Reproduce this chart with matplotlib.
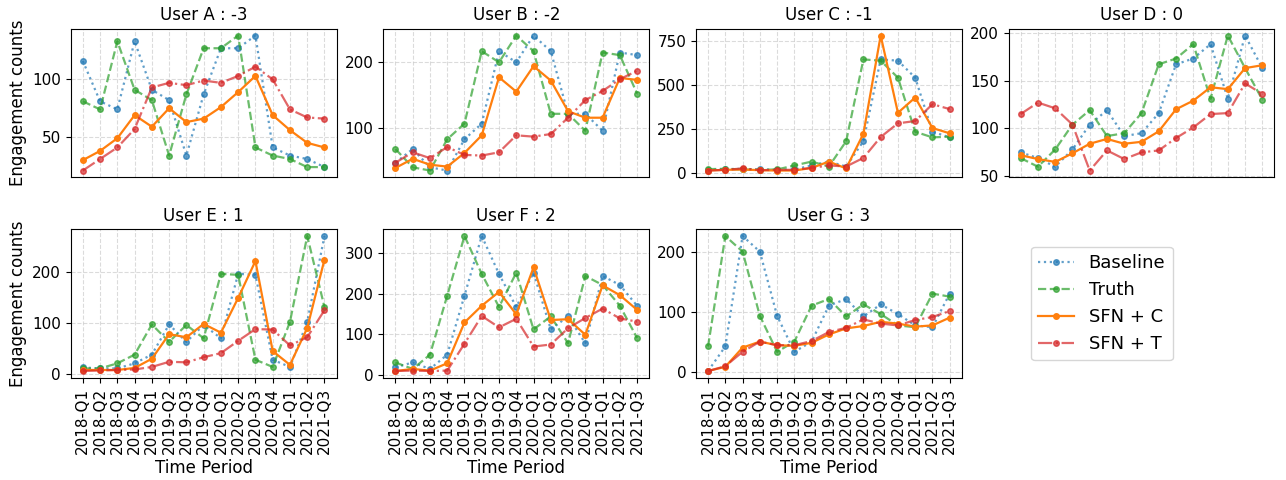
import numpy as np
import matplotlib
matplotlib.use('Agg')
import matplotlib.pyplot as plt

# time axis
periods = ['2018-Q1', '2018-Q2', '2018-Q3', '2018-Q4',
           '2019-Q1', '2019-Q2', '2019-Q3', '2019-Q4',
           '2020-Q1', '2020-Q2', '2020-Q3', '2020-Q4',
           '2021-Q1', '2021-Q2', '2021-Q3']

titles = ['User A : -3', 'User B : -2', 'User C : -1', 'User D : 0',
          'User E : 1', 'User F : 2', 'User G : 3']

# values, one list per user
baseline_A = [116, 81, 74, 133, 91, 82, 34, 87, 127, 127, 138, 41, 34, 31, 24]
truth_A = [81, 74, 133, 91, 82, 34, 87, 127, 127, 138, 41, 34, 31, 24, 24]
sfnc_A = [30, 38, 49, 69, 59, 75, 63, 66, 76, 89, 103, 69, 56, 45, 41]
sfnt_A = [21, 31, 41, 57, 93, 97, 95, 99, 97, 103, 111, 100, 74, 67, 66]

baseline_B = [46, 67, 39, 34, 82, 106, 217, 200, 241, 217, 121, 121, 95, 215, 211]
truth_B = [67, 39, 34, 82, 106, 217, 200, 241, 217, 121, 121, 95, 215, 211, 152]
sfnc_B = [38, 52, 43, 40, 61, 88, 177, 155, 194, 172, 125, 115, 115, 176, 173]
sfnt_B = [46, 62, 53, 70, 58, 57, 62, 88, 86, 90, 115, 142, 156, 174, 187]

baseline_C = [15, 21, 23, 19, 17, 19, 42, 64, 36, 180, 646, 639, 542, 234, 202]
truth_C = [21, 23, 19, 17, 19, 42, 64, 36, 180, 646, 639, 542, 234, 202, 206]
sfnc_C = [13, 17, 19, 15, 13, 13, 28, 64, 25, 223, 782, 342, 429, 255, 225]
sfnt_C = [13, 17, 25, 15, 17, 17, 28, 42, 36, 85, 204, 282, 295, 391, 363]

baseline_D = [75, 69, 60, 78, 104, 119, 92, 95, 116, 167, 173, 188, 131, 197, 163]
truth_D = [69, 60, 78, 104, 119, 92, 95, 116, 167, 173, 188, 131, 197, 163, 130]
sfnc_D = [72, 68, 65, 74, 84, 89, 84, 86, 97, 120, 129, 143, 141, 163, 166]
sfnt_D = [115, 127, 121, 104, 56, 77, 68, 75, 77, 90, 101, 115, 116, 147, 136]

baseline_E = [13, 11, 11, 21, 38, 97, 63, 96, 70, 196, 194, 28, 14, 102, 270]
truth_E = [11, 11, 21, 38, 97, 63, 96, 70, 196, 194, 28, 14, 102, 270, 131]
sfnc_E = [8, 8, 8, 12, 30, 78, 72, 98, 81, 149, 221, 45, 18, 90, 224]
sfnt_E = [6, 7, 8, 9, 14, 24, 23, 33, 41, 65, 88, 87, 56, 72, 125]

baseline_F = [19, 31, 15, 50, 195, 341, 248, 167, 251, 112, 144, 78, 243, 221, 170]
truth_F = [31, 15, 50, 195, 341, 248, 167, 251, 112, 144, 78, 243, 221, 170, 91]
sfnc_F = [10, 15, 11, 29, 129, 170, 204, 149, 264, 135, 137, 99, 220, 196, 160]
sfnt_F = [10, 11, 10, 11, 77, 145, 117, 138, 70, 75, 115, 140, 163, 139, 131]

baseline_G = [2, 43, 227, 201, 94, 34, 51, 111, 122, 93, 113, 97, 78, 75, 131]
truth_G = [43, 227, 201, 94, 34, 51, 111, 122, 93, 113, 97, 78, 75, 131, 126]
sfnc_G = [2, 9, 41, 51, 45, 44, 49, 63, 73, 77, 84, 81, 76, 78, 91]
sfnt_G = [2, 10, 34, 51, 45, 45, 52, 67, 74, 88, 81, 78, 87, 92, 102]

baselines = [baseline_A, baseline_B, baseline_C, baseline_D, baseline_E, baseline_F, baseline_G]
truths = [truth_A, truth_B, truth_C, truth_D, truth_E, truth_F, truth_G]
sfncs = [sfnc_A, sfnc_B, sfnc_C, sfnc_D, sfnc_E, sfnc_F, sfnc_G]
sfnts = [sfnt_A, sfnt_B, sfnt_C, sfnt_D, sfnt_E, sfnt_F, sfnt_G]

fig, axes = plt.subplots(2, 4, figsize=(12.86, 4.8), dpi=100)
fig.subplots_adjust(left=0.055, right=0.991, top=0.94, bottom=0.213,
                    wspace=0.176, hspace=0.35)
axes = axes.flatten()

x = np.arange(len(periods))
for i in range(7):
    ax = axes[i]
    ax.plot(x, baselines[i], ':', color='tab:blue', marker='o', markersize=4,
            linewidth=1.6, alpha=0.7, label='Baseline')
    ax.plot(x, truths[i], '--', color='tab:green', marker='o', markersize=4,
            linewidth=1.6, alpha=0.7, label='Truth')
    ax.plot(x, sfncs[i], '-', color='tab:orange', marker='o', markersize=4,
            linewidth=1.6, label='SFN + C')
    ax.plot(x, sfnts[i], '-.', color='tab:red', marker='o', markersize=4,
            linewidth=1.6, alpha=0.7, label='SFN + T')
    ax.set_title(titles[i], fontsize=12)
    ax.grid(True, linestyle='--', color='#cccccc', alpha=0.7)
    ax.set_xticks(x)
    ax.tick_params(axis='y', labelsize=11)
    if i <= 3:
        # top row: no tick labels
        ax.set_xticklabels([])
        ax.tick_params(axis='x', length=0)
    else:
        ax.set_xticklabels(periods, rotation=90, fontsize=11)
        ax.set_xlabel('Time Period', fontsize=12)
    if i == 0 or i == 4:
        ax.set_ylabel('Engagement counts', fontsize=12)

# legend goes in the empty last cell
axes[7].axis('off')
handles, labels = axes[0].get_legend_handles_labels()
axes[7].legend(handles, labels, loc='center left', bbox_to_anchor=(0.05, 0.5),
               fontsize=13)

plt.savefig('out.png')
